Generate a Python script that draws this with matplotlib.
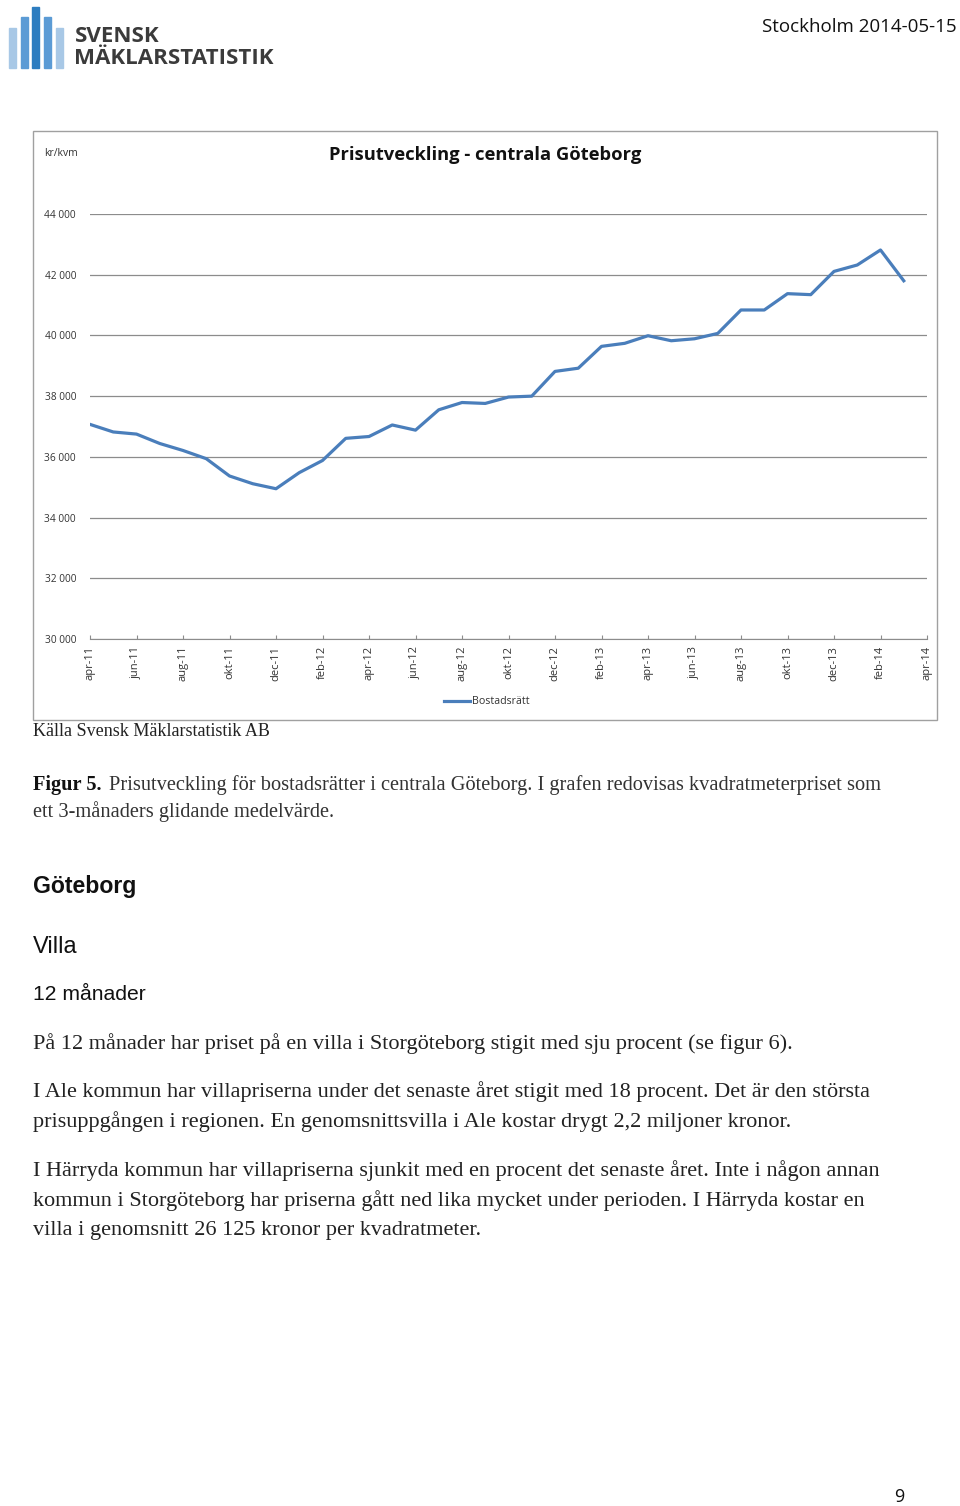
import numpy as np
import matplotlib.pyplot as plt
from matplotlib.patches import Rectangle
from matplotlib.lines import Line2D

# 3-month moving average, kr/kvm, bostadsrätt central Göteborg
months = ["apr-11", "maj-11", "jun-11", "jul-11", "aug-11", "sep-11", "okt-11", "nov-11",
          "dec-11", "jan-12", "feb-12", "mar-12", "apr-12", "maj-12", "jun-12", "jul-12",
          "aug-12", "sep-12", "okt-12", "nov-12", "dec-12", "jan-13", "feb-13", "mar-13",
          "apr-13", "maj-13", "jun-13", "jul-13", "aug-13", "sep-13", "okt-13", "nov-13",
          "dec-13", "jan-14", "feb-14", "mar-14", "apr-14"]
prices = [37070, 36820, 36750, 36440, 36210, 35940, 35370, 35115, 34950, 35480,
          35880, 36610, 36670, 37050, 36880, 37550, 37790, 37760, 37970, 38000,
          38815, 38920, 39640, 39740, 39990, 39825, 39890, 40066, 40838, 40838,
          41376, 41343, 42109, 42320, 42815, 41800]
yticks = [30000, 32000, 34000, 36000, 38000, 40000, 42000, 44000]

W, H = 960, 1506
fig = plt.figure(figsize=(W / 100, H / 100), dpi=100)


def fx(x):
    return x / W


def fy(y):
    return 1 - y / H


def txt(x, y, s, **kw):
    return fig.text(fx(x), fy(y), s, **kw)


# logo
bar_col = ["#a8c8e6", "#5b9bd5", "#2d7dc0", "#5b9bd5", "#a8c8e6"]
bar_x = [9, 21, 32, 44, 56]
bar_top = [28, 17, 7, 17, 28]
for c, bx, bt in zip(bar_col, bar_x, bar_top):
    fig.patches.append(Rectangle((fx(bx), fy(68)), 7 / W, (68 - bt) / H,
                                 transform=fig.transFigure, color=c))
txt(75, 37, "SVENSK", fontsize=16, fontweight="bold", color="#3b3b3b",
    family="Open Sans", va="center")
txt(74, 59, "MÄKLARSTATISTIK", fontsize=16, fontweight="bold", color="#3b3b3b",
    family="Open Sans", va="center")
txt(957, 27, "Stockholm 2014-05-15", fontsize=13.5, family="Open Sans", ha="right",
    va="center", color="#111111")

# chart frame
fig.patches.append(Rectangle((fx(33), fy(720)), (937 - 33) / W, (720 - 131) / H,
                             transform=fig.transFigure, fill=False,
                             edgecolor="#a0a0a0", lw=1))

ax = fig.add_axes([fx(90), fy(639), (927 - 90) / W, (639 - 214) / H])
x = np.arange(len(prices))
ax.plot(x, prices, color="#4a7ebb", lw=2.3, solid_joinstyle="round")
ax.set_xlim(0, len(months) - 1)
ax.set_ylim(yticks[0], yticks[-1])
ax.set_yticks(yticks)
ax.set_yticklabels([f"{v:,}".replace(",", " ") for v in yticks])
ax.set_xticks(np.arange(0, len(months), 2))
ax.set_xticklabels(months[::2], rotation=90)
ax.grid(axis="y", color="#8c8c8c", lw=0.9)
ax.set_axisbelow(True)
for s in ["top", "right", "left"]:
    ax.spines[s].set_visible(False)
ax.spines["bottom"].set_color("#8c8c8c")
ax.tick_params(axis="y", length=0, labelsize=7.3, pad=10, labelcolor="#333333")
ax.tick_params(axis="x", direction="in", length=3, color="#8c8c8c", labelsize=8,
               pad=5, labelcolor="#333333")
for lab in ax.get_xticklabels() + ax.get_yticklabels():
    lab.set_family("Open Sans")

txt(44, 154, "kr/kvm", fontsize=7.5, family="Open Sans", va="center", color="#333333")
txt(485, 155, "Prisutveckling - centrala Göteborg", fontsize=13.2, fontweight="bold",
    family="Open Sans", ha="center", va="center", color="#111111")
fig.lines.append(Line2D([fx(444), fx(470)], [fy(701), fy(701)], color="#4a7ebb",
                        lw=2.3, transform=fig.transFigure))
txt(472, 701, "Bostadsrätt", fontsize=7.7, family="Open Sans", va="center",
    color="#333333")

# text below
serif = "Liberation Serif"
txt(33, 732, "Källa Svensk Mäklarstatistik AB", fontsize=13, family=serif,
    va="center", color="#222222")
txt(33, 785, "Figur 5.", fontsize=14.7, family=serif, fontweight="bold", va="center",
    color="#111111")
txt(109, 785, "Prisutveckling för bostadsrätter i centrala Göteborg. I grafen redovisas "
    "kvadratmeterpriset som", fontsize=14.7, family=serif, va="center", color="#333333")
txt(33, 812, "ett 3-månaders glidande medelvärde.", fontsize=14.7, family=serif,
    va="center", color="#333333")

txt(33, 887, "Göteborg", fontsize=16.6, family="Liberation Sans", fontweight="bold",
    va="center", color="#111111")
txt(33, 947, "Villa", fontsize=17, family="Liberation Sans", va="center",
    color="#111111")
txt(33, 995, "12 månader", fontsize=15.2, family="Liberation Sans", va="center",
    color="#111111")

para = [
    (1044, "På 12 månader har priset på en villa i Storgöteborg stigit med sju procent (se figur 6)."),
    (1092, "I Ale kommun har villapriserna under det senaste året stigit med 18 procent. Det är den största"),
    (1122, "prisuppgången i regionen. En genomsnittsvilla i Ale kostar drygt 2,2 miljoner kronor."),
    (1171, "I Härryda kommun har villapriserna sjunkit med en procent det senaste året. Inte i någon annan"),
    (1201, "kommun i Storgöteborg har priserna gått ned lika mycket under perioden. I Härryda kostar en"),
    (1231, "villa i genomsnitt 26 125 kronor per kvadratmeter."),
]
for yy, s in para:
    txt(33, yy, s, fontsize=16, family=serif, va="center", color="#222222")

txt(894, 1497, "9", fontsize=13, family="Open Sans", va="center", color="#111111")

fig.savefig("out.png", dpi=100)
